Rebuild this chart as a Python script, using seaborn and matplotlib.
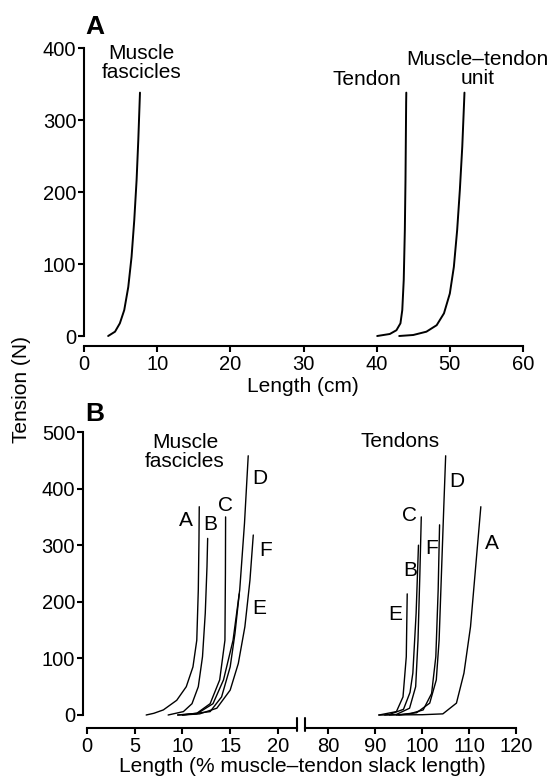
import numpy as np
import pandas as pd
import matplotlib
matplotlib.use('Agg')
import matplotlib.pyplot as plt
import seaborn as sns
from matplotlib.lines import Line2D

# ---- panel A: length (cm) vs tension (N)
a_fasc_x = [3.3, 4.24, 4.9, 5.5, 6.05, 6.5, 6.87, 7.19, 7.42, 7.65]
a_fasc_y = [0, 6, 17.6, 36, 68, 110, 161, 217, 272, 338]
a_tend_x = [40.07, 41.8, 42.7, 43.25, 43.5, 43.7, 43.85, 43.94, 44.03, 44.05]
a_tend_y = [0, 2.8, 8, 17.6, 36, 78, 147, 217, 325, 338]
a_mtu_x = [43.08, 45.0, 46.8, 48.2, 49.2, 50.0, 50.55, 51.0, 51.37, 51.7, 51.95, 52.0]
a_mtu_y = [0, 1.4, 6, 15, 31.5, 59, 96, 147, 203, 263, 325, 338]

# ---- panel B: length (% muscle-tendon slack length) vs tension (N)
fasc = {
    'A': ([6.2, 7.0, 8.0, 9.4, 10.4, 11.1, 11.5, 11.66, 11.73, 11.76],
          [0, 3, 9, 26, 50, 85, 132, 221, 309, 368]),
    'B': ([8.5, 10.1, 11.0, 11.66, 12.1, 12.39, 12.57, 12.64],
          [0, 6, 20, 50, 103, 180, 262, 312]),
    'C': ([9.5, 11.5, 12.9, 13.9, 14.45, 14.5, 14.52],
          [0, 3, 20, 62, 132, 250, 350]),
    'D': ([9.5, 11.5, 13.2, 14.3, 15.3, 16.0, 16.5, 16.89],
          [0, 2, 20, 62, 132, 221, 339, 458]),
    'E': ([10.0, 12.9, 14.1, 15.0, 15.5, 15.95],
          [0, 6, 32, 85, 144, 214]),
    'F': ([10.0, 11.8, 13.6, 15.0, 15.85, 16.54, 17.07, 17.42],
          [0, 2, 12, 44, 91, 156, 238, 318]),
}
tend = {
    'A': ([90.7, 100.0, 104.4, 107.3, 108.9, 110.3, 111.4, 112.5],
          [0, 0.5, 2, 21, 74, 156, 262, 368]),
    'B': ([92.0, 93.0, 96.0, 97.4, 98.0, 98.7, 99.2],
          [0, 1, 10, 40, 74, 180, 300]),
    'C': ([93.0, 94.5, 97.3, 98.6, 99.1, 99.5, 99.8],
          [0, 1, 12, 50, 132, 250, 350]),
    'D': ([94.5, 98.8, 101.6, 103.0, 103.6, 104.1, 104.6, 105.0],
          [0, 4, 21, 62, 132, 250, 368, 458]),
    'E': ([90.8, 94.5, 95.9, 96.6, 96.8],
          [0, 6, 32, 103, 214]),
    'F': ([95.0, 97.3, 100.2, 102.0, 102.9, 103.4, 103.7],
          [0, 2, 9, 38, 103, 221, 336]),
}
fasc_lab = {'A': (10.4, 344), 'B': (12.95, 337), 'C': (14.55, 371),
            'D': (18.1, 418), 'F': (18.7, 290), 'E': (18.05, 188)}
tend_lab = {'C': (97.3, 353), 'D': (107.3, 412), 'F': (102.0, 294),
            'A': (114.8, 303), 'B': (97.5, 256), 'E': (94.3, 177)}

sns.set_style('ticks', {'axes.edgecolor': 'black', 'text.color': 'black',
                        'xtick.color': 'black', 'ytick.color': 'black',
                        'axes.labelcolor': 'black'})
plt.rcParams['font.family'] = ['Liberation Sans', 'DejaVu Sans']
FS = 14.5
plt.rcParams['font.size'] = 15
plt.rcParams['axes.linewidth'] = 1.5
plt.rcParams['xtick.major.width'] = 1.5
plt.rcParams['ytick.major.width'] = 1.5
plt.rcParams['xtick.major.size'] = 4
plt.rcParams['ytick.major.size'] = 4
plt.rcParams['xtick.major.pad'] = 2.5
plt.rcParams['ytick.major.pad'] = 1.5
plt.rcParams['xtick.labelsize'] = FS
plt.rcParams['ytick.labelsize'] = FS

W, H = 557, 778
fig = plt.figure(figsize=(W / 100, H / 100), dpi=100)


def box(l, r, top, bot):
    return [l / W, 1 - bot / H, (r - l) / W, (bot - top) / H]


def curve(ax, x, y, lw):
    sns.lineplot(x=x, y=y, ax=ax, sort=False, estimator=None,
                 color='black', lw=lw)
    for ln in ax.lines:
        ln.set_clip_on(False)


# ---- panel A
axA = fig.add_axes(box(84, 523, 48, 336))
curve(axA, a_fasc_x, a_fasc_y, 1.4)
curve(axA, a_tend_x, a_tend_y, 1.4)
curve(axA, a_mtu_x, a_mtu_y, 1.4)
axA.set_xlim(0, 60)
axA.set_ylim(0, 400)
axA.set_xticks([0, 10, 20, 30, 40, 50, 60])
axA.set_yticks([0, 100, 200, 300, 400])
sns.despine(ax=axA)
axA.spines['bottom'].set_position(('outward', 7))
axA.text(7.9, 379, 'Muscle\nfascicles', ha='center', va='center', linespacing=1.0)
axA.text(38.7, 356, 'Tendon', ha='center', va='center')
axA.text(53.8, 371, 'Muscle\u2013tendon\nunit', ha='center', va='center', linespacing=1.0)

# ---- panel B (broken x axis)
axL = fig.add_axes(box(87, 297, 432, 715))
axR = fig.add_axes(box(305, 516, 432, 715))
for k, (x, y) in fasc.items():
    curve(axL, x, y, 1.0)
for k, (x, y) in tend.items():
    curve(axR, x, y, 1.0)
for k, (x, y) in fasc_lab.items():
    axL.text(x, y, k, ha='center', va='center')
for k, (x, y) in tend_lab.items():
    axR.text(x, y, k, ha='center', va='center')
axL.text(10.26, 465, 'Muscle\nfascicles', ha='center', va='center', linespacing=1.0)
axR.text(95.3, 483, 'Tendons', ha='center', va='center')

axL.set_xlim(0, 22)
axR.set_xlim(75, 120)
for ax in (axL, axR):
    ax.set_ylim(0, 500)
axL.set_xticks([0, 5, 10, 15, 20])
axR.set_xticks([80, 90, 100, 110, 120])
axL.set_yticks([0, 100, 200, 300, 400, 500])
sns.despine(ax=axL)
sns.despine(ax=axR, left=True)
axR.tick_params(left=False, labelleft=False)
axL.spines['bottom'].set_position(('outward', 9))
axR.spines['bottom'].set_position(('outward', 9))
axL.spines['left'].set_position(('outward', 3))

# break marks
for xp in (297, 305):
    fig.add_artist(Line2D([xp / W, xp / W], [1 - 718 / H, 1 - 731 / H],
                          transform=fig.transFigure, color='black', lw=1.5))

fig.text(303 / W, 1 - 387 / H, 'Length (cm)', ha='center', va='center')
fig.text(302 / W, 1 - 767 / H, 'Length (% muscle\u2013tendon slack length)',
         ha='center', va='center')
fig.text(22 / W, 1 - 390 / H, 'Tension (N)', rotation=90,
         ha='center', va='center')
fig.text(95 / W, 1 - 27 / H, 'A', ha='center', va='center',
         fontsize=19, fontweight='bold')
fig.text(95 / W, 1 - 414 / H, 'B', ha='center', va='center',
         fontsize=19, fontweight='bold')

fig.savefig('out.png', dpi=100)
